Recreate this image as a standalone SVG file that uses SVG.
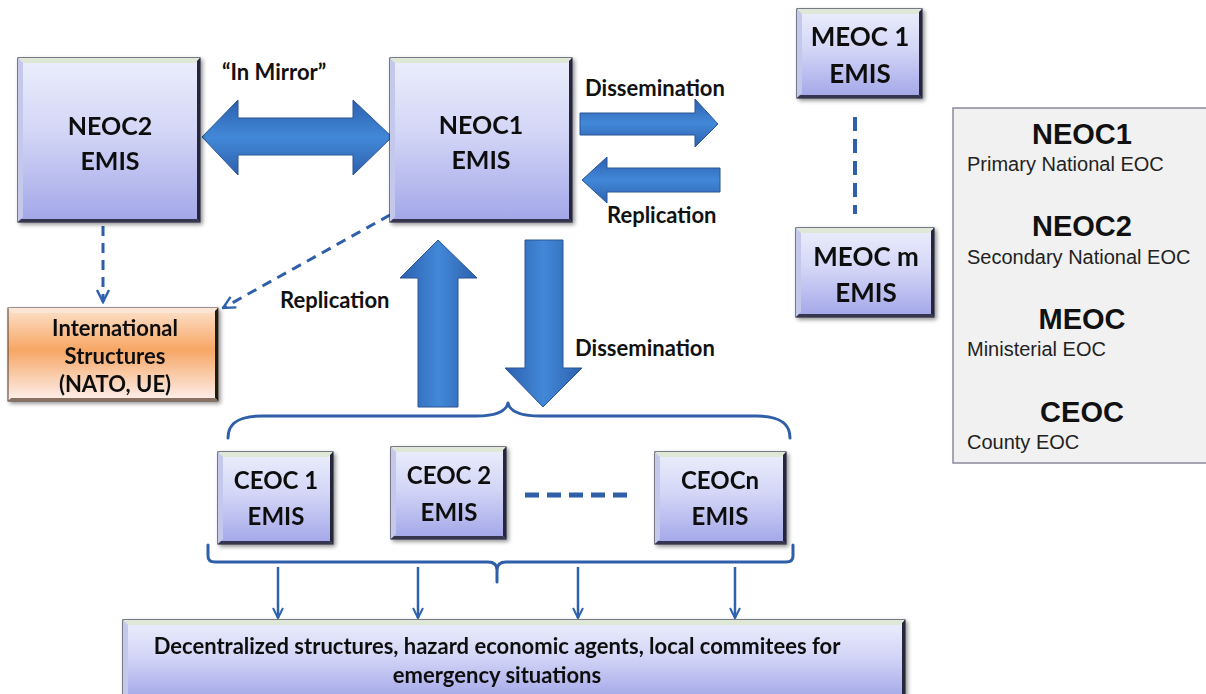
<svg xmlns="http://www.w3.org/2000/svg" width="1206" height="694" viewBox="0 0 1206 694">
  <defs>
    <linearGradient id="boxFill" x1="0" y1="0" x2="0" y2="1">
      <stop offset="0" stop-color="#eceefc"/>
      <stop offset="0.45" stop-color="#d3d6f6"/>
      <stop offset="1" stop-color="#a2a6e8"/>
    </linearGradient>
    <linearGradient id="orangeFill" x1="0" y1="0" x2="0" y2="1">
      <stop offset="0" stop-color="#fde2cc"/>
      <stop offset="0.45" stop-color="#f6a664"/>
      <stop offset="1" stop-color="#fdf1ef"/>
    </linearGradient>
    <linearGradient id="arrowH" x1="0" y1="0" x2="0" y2="1">
      <stop offset="0" stop-color="#2c60ae"/>
      <stop offset="0.5" stop-color="#4288d8"/>
      <stop offset="1" stop-color="#2d61ad"/>
    </linearGradient>
    <linearGradient id="arrowV" x1="0" y1="0" x2="1" y2="0">
      <stop offset="0" stop-color="#2c60ae"/>
      <stop offset="0.5" stop-color="#4288d8"/>
      <stop offset="1" stop-color="#2d61ad"/>
    </linearGradient>
    <filter id="shadow" x="-10%" y="-10%" width="130%" height="130%">
      <feGaussianBlur in="SourceAlpha" stdDeviation="2"/>
      <feOffset dx="2" dy="2" result="b"/>
      <feComponentTransfer><feFuncA type="linear" slope="0.45"/></feComponentTransfer>
      <feMerge><feMergeNode/><feMergeNode in="SourceGraphic"/></feMerge>
    </filter>
    <marker id="vhead" viewBox="0 0 10 10" refX="9" refY="5" markerWidth="5" markerHeight="5" orient="auto" markerUnits="strokeWidth">
      <path d="M1,1 L9,5 L1,9" fill="none" stroke="#2e62ae" stroke-width="1.6"/>
    </marker>
  </defs>
  <style>
    .box { fill: url(#boxFill); stroke: #2c2c44; stroke-width: 1.2; }
    .bev-top { fill: #dfe7d6; }
    .bev-left { fill: #c4c8ea; }
    .bev-right { fill: #25253a; }
    .bev-bot { fill: #34344e; }
    .lbl { font-family: Lato, "Open Sans", sans-serif; font-weight: 700; fill: #111; }
    .big { font-size: 25px; text-anchor: middle; }
    .mid { font-size: 26px; text-anchor: middle; }
    .ceoc { font-size: 24px; text-anchor: middle; }
    .small { font-size: 22px; text-anchor: middle; }
    .edge-lbl { font-size: 22px; }
    .leg-title { font-family: "Liberation Sans", Arial, sans-serif; font-weight: 700; font-size: 29px; fill: #111; text-anchor: middle; }
    .leg-sub { font-family: "Liberation Sans", Arial, sans-serif; font-size: 20px; fill: #222; }
    .fat { stroke: #2a5595; stroke-width: 1; }
    .dash { fill: none; stroke: #2e5fa8; stroke-width: 3; stroke-dasharray: 10 7; }
    .brace { fill: none; stroke: #2e5fa8; stroke-width: 3; stroke-linecap: round; stroke-linejoin: round; }
    .feed { fill: none; stroke: #2e62ae; stroke-width: 2.5; }
  </style>

  <!-- connectors -->
  <g id="connectors">
    <!-- mirror link between the two national centres -->
    <path class="fat" fill="url(#arrowH)" d="M202,137 L238,100 L238,118 L353,118 L353,100 L392,137 L353,175 L353,155 L238,155 L238,175 Z"/>
    <text class="lbl edge-lbl" x="222" y="80">“In Mirror”</text>

    <!-- NEOC1 to ministerial centres -->
    <path class="fat" fill="url(#arrowH)" d="M580,113 L695,113 L695,99 L718,124 L695,147 L695,135 L580,135 Z"/>
    <text class="lbl edge-lbl" x="585" y="96">Dissemination</text>
    <path class="fat" fill="url(#arrowH)" d="M720,168 L607,168 L607,157 L582,180 L607,203 L607,192 L720,192 Z"/>
    <text class="lbl edge-lbl" x="607" y="223">Replication</text>

    <!-- ministerial chain -->
    <line x1="855" y1="117" x2="855" y2="214" stroke="#2e5fa8" stroke-width="4" stroke-dasharray="14 8"/>

    <!-- links to international structures -->
    <line class="dash" x1="103" y1="226" x2="103" y2="302" marker-end="url(#vhead)"/>
    <line class="dash" x1="390" y1="215" x2="223" y2="308" marker-end="url(#vhead)"/>
    <text class="lbl edge-lbl" x="280" y="308">Replication</text>

    <!-- NEOC1 to / from county centres -->
    <path class="fat" fill="url(#arrowV)" d="M438,240 L477,278 L458,278 L458,407 L418,407 L418,278 L400,278 Z"/>
    <path class="fat" fill="url(#arrowV)" d="M525,240 L563,240 L563,368 L582,368 L543,407 L505,368 L525,368 Z"/>
    <text class="lbl edge-lbl" x="575" y="356">Dissemination</text>

    <!-- brace grouping the county centres -->
    <path class="brace" d="M228,438 C228,422 240,416 262,416 L476,416 C496,416 506,412 508,403 C510,412 520,416 540,416 L756,416 C778,416 790,422 790,438"/>

    <!-- county chain -->
    <line x1="525" y1="495" x2="632" y2="495" stroke="#2e5fa8" stroke-width="5" stroke-dasharray="14 8"/>

    <!-- brace collecting county outputs -->
    <path class="brace" d="M208,545 L208,556 Q208,562 215,562 L488,562 Q497,562 497,570 L497,582 M497,570 Q497,562 506,562 L786,562 Q793,562 793,556 L793,545"/>

    <!-- feeds to local structures -->
    <line class="feed" x1="278" y1="567" x2="278" y2="618" marker-end="url(#vhead)"/>
    <line class="feed" x1="418" y1="567" x2="418" y2="618" marker-end="url(#vhead)"/>
    <line class="feed" x1="578" y1="567" x2="578" y2="618" marker-end="url(#vhead)"/>
    <line class="feed" x1="735" y1="567" x2="735" y2="618" marker-end="url(#vhead)"/>
  </g>

  <!-- NEOC2 -->
  <g id="neoc2" filter="url(#shadow)">
    <rect class="box" x="18" y="58" width="182" height="164"/>
    <polygon class="bev-top" points="18,58 200,58 195,63 23,63"/>
    <polygon class="bev-left" points="18,58 23,63 23,217 18,222"/>
    <polygon class="bev-right" points="200,58 200,222 197,219 197,61"/>
    <polygon class="bev-bot" points="18,222 200,222 197,219 21,219"/>
    <text class="lbl big" x="110" y="135">NEOC2</text>
    <text class="lbl big" x="110" y="170">EMIS</text>
  </g>

  <!-- NEOC1 -->
  <g id="neoc1" filter="url(#shadow)">
    <rect class="box" x="390" y="58" width="182" height="164"/>
    <polygon class="bev-top" points="390,58 572,58 567,63 395,63"/>
    <polygon class="bev-left" points="390,58 395,63 395,217 390,222"/>
    <polygon class="bev-right" points="572,58 572,222 569,219 569,61"/>
    <polygon class="bev-bot" points="390,222 572,222 569,219 393,219"/>
    <text class="lbl big" x="481" y="134">NEOC1</text>
    <text class="lbl big" x="481" y="169">EMIS</text>
  </g>

  <!-- MEOC 1 -->
  <g id="meoc1" filter="url(#shadow)">
    <rect class="box" x="797" y="9" width="125" height="89"/>
    <polygon class="bev-top" points="797,9 922,9 917,14 802,14"/>
    <polygon class="bev-left" points="797,9 802,14 802,93 797,98"/>
    <polygon class="bev-right" points="922,9 922,98 919,95 919,12"/>
    <polygon class="bev-bot" points="797,98 922,98 919,95 800,95"/>
    <text class="lbl mid" x="860" y="46">MEOC 1</text>
    <text class="lbl mid" x="860" y="83">EMIS</text>
  </g>

  <!-- MEOC m -->
  <g id="meocm" filter="url(#shadow)">
    <rect class="box" x="796" y="228" width="138" height="89"/>
    <polygon class="bev-top" points="796,228 934,228 929,233 801,233"/>
    <polygon class="bev-left" points="796,228 801,233 801,312 796,317"/>
    <polygon class="bev-right" points="934,228 934,317 931,314 931,231"/>
    <polygon class="bev-bot" points="796,317 934,317 931,314 799,314"/>
    <text class="lbl mid" x="866" y="266">MEOC m</text>
    <text class="lbl mid" x="866" y="302">EMIS</text>
  </g>

  <!-- International Structures -->
  <g id="international" filter="url(#shadow)">
    <rect x="8" y="308" width="210" height="93" fill="url(#orangeFill)" stroke="#4a3a30" stroke-width="1"/>
    <polygon points="8,308 218,308 213,313 13,313" fill="#fbe6d6"/>
    <polygon points="218,308 218,401 215,398 215,311" fill="#1e1a18"/>
    <polygon points="8,401 218,401 215,398 11,398" fill="#8a7060"/>
    <text class="lbl small" x="115" y="336">International</text>
    <text class="lbl small" x="115" y="364">Structures</text>
    <text class="lbl small" x="115" y="392">(NATO, UE)</text>
  </g>

  <!-- CEOC 1 -->
  <g id="ceoc1" filter="url(#shadow)">
    <rect class="box" x="218" y="452" width="115" height="92"/>
    <polygon class="bev-top" points="218,452 333,452 328,457 223,457"/>
    <polygon class="bev-left" points="218,452 223,457 223,539 218,544"/>
    <polygon class="bev-right" points="333,452 333,544 330,541 330,455"/>
    <polygon class="bev-bot" points="218,544 333,544 330,541 221,541"/>
    <text class="lbl ceoc" x="276" y="489">CEOC 1</text>
    <text class="lbl ceoc" x="276" y="525">EMIS</text>
  </g>

  <!-- CEOC 2 -->
  <g id="ceoc2" filter="url(#shadow)">
    <rect class="box" x="391" y="447" width="115" height="92"/>
    <polygon class="bev-top" points="391,447 506,447 501,452 396,452"/>
    <polygon class="bev-left" points="391,447 396,452 396,534 391,539"/>
    <polygon class="bev-right" points="506,447 506,539 503,536 503,450"/>
    <polygon class="bev-bot" points="391,539 506,539 503,536 394,536"/>
    <text class="lbl ceoc" x="449" y="484">CEOC 2</text>
    <text class="lbl ceoc" x="449" y="521">EMIS</text>
  </g>

  <!-- CEOC n -->
  <g id="ceocn" filter="url(#shadow)">
    <rect class="box" x="655" y="452" width="131" height="92"/>
    <polygon class="bev-top" points="655,452 786,452 781,457 660,457"/>
    <polygon class="bev-left" points="655,452 660,457 660,539 655,544"/>
    <polygon class="bev-right" points="786,452 786,544 783,541 783,455"/>
    <polygon class="bev-bot" points="655,544 786,544 783,541 658,541"/>
    <text class="lbl ceoc" x="720" y="489">CEOCn</text>
    <text class="lbl ceoc" x="720" y="525">EMIS</text>
  </g>

  <!-- Local structures -->
  <g id="local" filter="url(#shadow)">
    <rect class="box" x="123" y="620" width="782" height="80"/>
    <polygon class="bev-top" points="123,620 905,620 900,625 128,625"/>
    <polygon class="bev-left" points="123,620 128,625 128,700 123,700"/>
    <polygon class="bev-right" points="905,620 905,700 902,700 902,623"/>
    <text class="lbl small" x="497" y="654">Decentralized structures, hazard economic agents, local commitees for</text>
    <text class="lbl small" x="497" y="683">emergency situations</text>
  </g>

  <!-- Legend -->
  <g id="legend">
    <rect x="953" y="108" width="260" height="355" fill="#f1f1f1" stroke="#8a8a9c" stroke-width="1.5"/>
    <text class="leg-title" x="1082" y="144">NEOC1</text>
    <text class="leg-sub" x="967" y="171">Primary National EOC</text>
    <text class="leg-title" x="1082" y="236">NEOC2</text>
    <text class="leg-sub" x="967" y="264">Secondary National EOC</text>
    <text class="leg-title" x="1082" y="329">MEOC</text>
    <text class="leg-sub" x="967" y="356">Ministerial EOC</text>
    <text class="leg-title" x="1082" y="422">CEOC</text>
    <text class="leg-sub" x="967" y="449">County EOC</text>
  </g>
</svg>
